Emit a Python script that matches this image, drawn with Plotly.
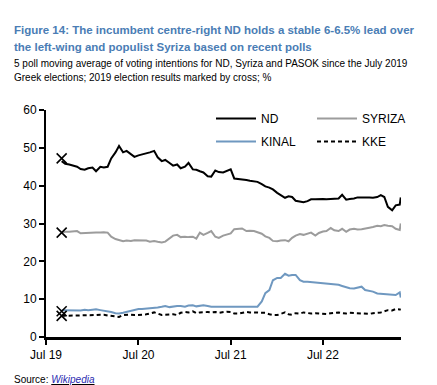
import plotly.graph_objects as go

# ---------------- data ----------------
dates = [
    "2019-09-01", "2019-09-15", "2019-10-01", "2019-10-15", "2019-11-01", "2019-11-15", "2019-12-01", "2019-12-15",
    "2020-01-01", "2020-01-15", "2020-02-01", "2020-02-15", "2020-03-01", "2020-03-15", "2020-04-01", "2020-04-15",
    "2020-05-01", "2020-05-15", "2020-06-01", "2020-06-15", "2020-07-01", "2020-07-15", "2020-08-01", "2020-08-15",
    "2020-09-01", "2020-09-15", "2020-10-01", "2020-10-15", "2020-11-01", "2020-11-15", "2020-12-01", "2020-12-15",
    "2021-01-01", "2021-01-15", "2021-02-01", "2021-02-15", "2021-03-01", "2021-03-15", "2021-04-01", "2021-04-15",
    "2021-05-01", "2021-05-15", "2021-06-01", "2021-06-15", "2021-07-01", "2021-07-15", "2021-08-01", "2021-08-15",
    "2021-09-01", "2021-09-15", "2021-10-01", "2021-10-15", "2021-11-01", "2021-11-15", "2021-12-01", "2021-12-15",
    "2022-01-01", "2022-01-15", "2022-02-01", "2022-02-15", "2022-03-01", "2022-03-15", "2022-04-01", "2022-04-15",
    "2022-05-01", "2022-05-15", "2022-06-01", "2022-06-15", "2022-07-01", "2022-07-15", "2022-08-01", "2022-08-15",
    "2022-09-01", "2022-09-15", "2022-10-01", "2022-10-15", "2022-11-01", "2022-11-15", "2022-12-01", "2022-12-15",
    "2023-01-01", "2023-01-15", "2023-02-01", "2023-02-15", "2023-03-01", "2023-03-15", "2023-04-01", "2023-04-15",
    "2023-05-01", "2023-05-05",
]

nd = [
    46.5, 45.8, 45.6, 45.4, 45.0, 44.4, 44.2, 44.6, 44.8, 43.8, 45.0, 44.8, 45.0, 47.2, 48.8, 50.5,
    48.8, 49.2, 48.2, 47.6, 48.0, 48.2, 48.5, 48.8, 49.2, 47.5, 46.5, 46.8, 46.0, 45.3, 45.6, 44.6,
    45.0, 46.0, 44.3, 44.2, 43.8, 43.5, 42.5, 42.4, 44.0, 43.6, 43.5, 43.8, 44.3, 41.9, 41.8, 41.7,
    41.5, 41.3, 41.2, 41.0, 40.4, 39.8, 39.5, 39.0, 38.1, 37.5, 36.8, 37.2, 37.0, 36.0, 35.7, 35.6,
    35.9, 36.4, 36.4, 36.5, 36.5, 36.4, 36.5, 36.6, 36.6, 37.6, 36.3, 36.5, 36.6, 36.9, 36.8, 36.9,
    36.9, 36.8, 37.0, 37.5, 37.0, 34.4, 33.5, 34.8, 35.0, 36.9,
]

syriza = [
    27.6, 27.8, 27.8, 27.9, 28.0, 27.4, 27.5, 27.6, 27.6, 27.6, 27.6, 27.7, 27.6, 26.5, 25.9, 25.6,
    25.3, 25.5, 25.4, 25.6, 25.6, 25.4, 25.5, 25.2, 25.4, 25.2, 25.0, 25.2, 26.0, 26.8, 27.0, 26.4,
    26.5, 26.4, 26.5, 26.0, 27.6, 27.0, 27.5, 28.0, 26.5, 26.2, 26.8, 27.0, 27.4, 28.5, 28.6, 28.7,
    28.0, 28.1, 28.0, 27.6, 27.3, 26.6, 26.2, 25.4, 25.3, 25.5, 25.6, 25.3, 26.2, 26.8, 27.2, 27.0,
    27.4, 27.6, 26.8, 27.5, 27.9, 28.0, 28.8, 28.2, 28.0, 28.6, 27.8, 28.4, 28.6, 28.4, 28.5, 28.6,
    28.9, 29.1, 29.4, 29.3, 29.6, 29.4, 29.3, 28.6, 28.3, 30.0,
]

kinal = [
    7.1, 7.1, 7.0, 7.1, 7.1, 7.0, 7.2, 7.1, 7.2, 7.3, 7.1, 7.0, 6.9, 6.6, 6.3, 6.2,
    6.4, 6.6, 6.8, 7.2, 7.4, 7.4, 7.5, 7.6, 7.6, 7.8, 8.0, 8.2, 7.9, 8.1, 8.2, 8.2,
    8.0, 8.3, 8.4, 8.1, 8.2, 8.4, 8.2, 8.0, 8.0, 8.0, 8.0, 8.0, 8.0, 8.0, 8.0, 8.0,
    7.9, 8.0, 8.0, 8.0, 9.4, 11.6, 12.4, 15.0, 15.6, 15.6, 16.7, 16.2, 16.4, 16.4, 15.0, 14.6,
    14.6, 14.5, 14.4, 14.3, 14.2, 14.1, 14.0, 13.8, 13.8, 13.5, 13.1, 12.9, 12.8, 13.0, 13.3, 12.4,
    12.2, 12.0, 11.5, 11.4, 11.3, 11.2, 11.0, 11.1, 11.8, 10.4,
]

kke = [
    5.6, 5.6, 5.7, 5.7, 5.8, 5.7, 5.8, 5.8, 5.8, 5.8, 5.9, 5.9, 5.7, 5.6, 5.4, 5.3,
    5.8, 5.9, 5.9, 5.8, 5.8, 5.9, 6.0, 6.2, 6.5, 6.2, 5.8, 5.9, 6.0, 6.0, 5.8, 6.4,
    6.6, 6.5, 6.8, 6.3, 6.5, 6.6, 6.6, 6.5, 6.6, 6.4, 6.6, 6.7, 6.6, 6.2, 6.2, 6.4,
    6.6, 6.5, 6.5, 6.4, 6.5, 6.4, 6.0, 5.8, 5.8, 6.2, 6.5, 6.0, 5.9, 6.3, 6.2, 6.5,
    6.4, 6.2, 6.3, 6.2, 6.1, 6.1, 6.3, 6.4, 6.5, 6.3, 6.2, 6.4, 6.3, 6.2, 6.1, 6.2,
    6.1, 6.3, 6.4, 6.5, 6.8, 7.1, 7.0, 7.4, 7.3, 7.2,
]

election_date = "2019-09-01"
election_parties = ["ND", "SYRIZA", "KINAL", "KKE"]
election_results = [47.2, 27.6, 6.8, 5.6]

tick_dates = ["2019-07-01", "2020-07-01", "2021-07-01", "2022-07-01"]
tick_labels = ["Jul 19", "Jul 20", "Jul 21", "Jul 22"]
y_ticks = [0, 10, 20, 30, 40, 50, 60]

# ---------------- styling ----------------
FONT = "Liberation Sans, Arial, sans-serif"
W, H = 437, 385
ML, MR, MT, MB = 38, 44, 102, 56
PW = W - ML - MR
PH = H - MT - MB


def px_x(px):
    return (px - ML) / PW


def px_y(py):
    return (H - MB - py) / PH


fig = go.Figure()

series = [
    ("ND", nd, "#000000", "solid", "legend"),
    ("KINAL", kinal, "#6f98c0", "solid", "legend"),
    ("SYRIZA", syriza, "#9c9c9c", "solid", "legend2"),
    ("KKE", kke, "#000000", "4px,3px", "legend2"),
]
for name, vals, col, dash, lg in series:
    fig.add_trace(go.Scatter(
        x=dates, y=vals, mode="lines", name=name,
        line=dict(color=col, width=2, dash=dash),
        legend=lg, legendgroup=name,
    ))

fig.add_trace(go.Scatter(
    x=[election_date] * len(election_results), y=election_results,
    mode="markers", showlegend=False, text=election_parties,
    marker=dict(symbol="x-thin", size=10, line=dict(color="#000000", width=1.6)),
))

fig.update_layout(
    template="none",
    width=W, height=H,
    margin=dict(l=ML, r=MR, t=MT, b=MB, autoexpand=False),
    paper_bgcolor="white", plot_bgcolor="white",
    font=dict(family=FONT, size=12, color="#000000"),
    xaxis=dict(
        type="date", range=["2019-07-01", "2023-05-06"],
        tickvals=tick_dates, ticktext=tick_labels,
        showgrid=False, zeroline=False, automargin=False,
        showline=True, linecolor="#000000", linewidth=2.5,
        ticks="outside", ticklen=5, tickwidth=2, tickcolor="#000000",
        tickfont=dict(size=12, family=FONT),
    ),
    yaxis=dict(
        range=[0, 60], tickvals=y_ticks,
        showgrid=False, zeroline=False, automargin=False,
        showline=True, linecolor="#000000", linewidth=2,
        ticks="outside", ticklen=5, tickwidth=1.5, tickcolor="#000000",
        tickfont=dict(size=12, family=FONT),
    ),
    legend=dict(
        x=px_x(203), y=px_y(96), xanchor="left", yanchor="top",
        bgcolor="rgba(0,0,0,0)", font=dict(size=12, family=FONT),
        tracegroupgap=4, itemwidth=40,
    ),
    legend2=dict(
        x=px_x(304), y=px_y(96), xanchor="left", yanchor="top",
        bgcolor="rgba(0,0,0,0)", font=dict(size=12, family=FONT),
        tracegroupgap=4, itemwidth=40,
    ),
    showlegend=True,
)

annotations = [
    dict(text="<b>Figure 14: The incumbent centre-right ND holds a stable 6-6.5% lead over</b>",
         x=px_x(4), y=px_y(22), font=dict(size=11.5, color="#4a7db5")),
    dict(text="<b>the left-wing and populist Syriza based on recent polls</b>",
         x=px_x(4), y=px_y(39), font=dict(size=11.5, color="#4a7db5")),
    dict(text="5 poll moving average of voting intentions for ND, Syriza and PASOK since the July 2019",
         x=px_x(4), y=px_y(56), font=dict(size=10, color="#000000")),
    dict(text="Greek elections; 2019 election results marked by cross; %",
         x=px_x(4), y=px_y(69), font=dict(size=10, color="#000000")),
    dict(text="Source: <i><u><span style='color:#2a2ab0'>Wikipedia</span></u></i>",
         x=px_x(4), y=px_y(371), font=dict(size=10, color="#000000")),
]
for a in annotations:
    a.update(xref="paper", yref="paper", xanchor="left", yanchor="middle",
             showarrow=False, align="left")
    a["font"]["family"] = FONT
fig.update_layout(annotations=annotations)

fig.write_html("out.html")
